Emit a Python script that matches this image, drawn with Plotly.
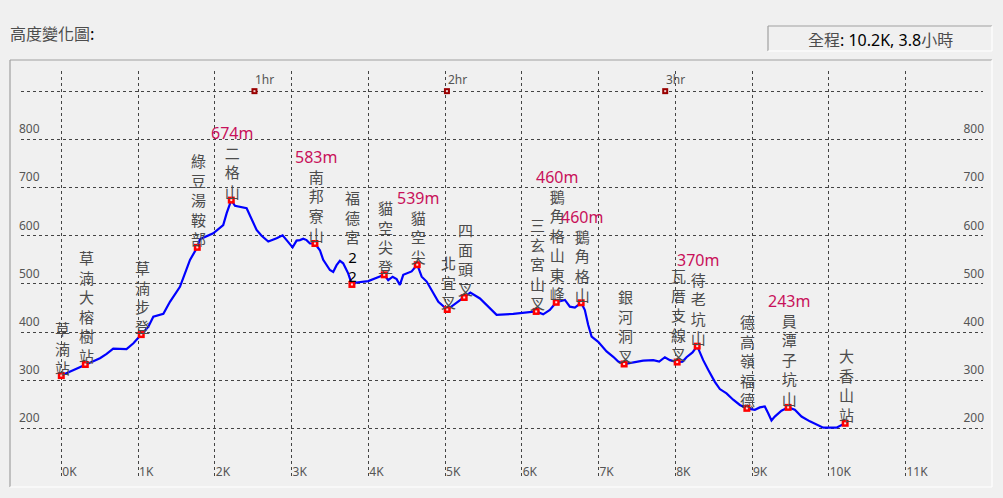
import plotly.graph_objects as go

# elevation profile: distance (km) / elevation (m)
profile_km = [0.00, 0.313, 0.504, 0.591, 0.677, 0.85, 0.94, 1.042, 1.133, 1.199,
              1.33, 1.416, 1.546, 1.677, 1.772, 1.807, 1.98, 2.11, 2.155, 2.215,
              2.263, 2.415, 2.48, 2.545, 2.61, 2.697, 2.806, 2.884, 2.936, 3.014,
              3.066, 3.11, 3.153, 3.196, 3.24, 3.305, 3.37, 3.413, 3.5, 3.543,
              3.587, 3.63, 3.673, 3.738, 3.787, 3.848, 4.0, 4.109, 4.208, 4.26,
              4.317, 4.369, 4.412, 4.456, 4.521, 4.565, 4.638, 4.696, 4.761, 4.848,
              4.913, 5.029, 5.25, 5.33, 5.455, 5.542, 5.672, 5.889, 6.063, 6.188,
              6.279, 6.366, 6.449, 6.562, 6.627, 6.692, 6.774, 6.822, 6.866, 6.91,
              6.996, 7.105, 7.192, 7.257, 7.334, 7.452, 7.582, 7.713, 7.791, 7.865,
              7.93, 8.025, 8.095, 8.147, 8.225, 8.286, 8.364, 8.429, 8.516, 8.581,
              8.668, 8.755, 8.842, 8.933, 9.037, 9.102, 9.167, 9.211, 9.254, 9.297,
              9.384, 9.471, 9.558, 9.645, 9.754, 9.928, 10.1, 10.214]
profile_elev = [310, 333, 346, 355, 366, 365, 377, 395, 411, 432,
                438, 463, 494, 550, 576, 593, 605, 622, 647, 674,
                662, 657, 633, 612, 600, 588, 595, 601, 591, 576,
                590, 591, 594, 591, 584, 584, 570, 550, 529, 525,
                539, 548, 543, 522, 499, 503, 506, 512, 519, 508,
                515, 510, 498, 519, 523, 526, 540, 515, 505, 481,
                463, 447, 472, 482, 470, 456, 436, 438, 440, 443,
                437, 446, 462, 467, 453, 451, 461, 446, 415, 391,
                380, 360, 349, 339, 334, 337, 341, 342, 339, 348,
                342, 338, 339, 348, 358, 371, 342, 322, 297, 282,
                273, 260, 249, 242, 239, 244, 246, 232, 217, 225,
                237, 244, 239, 225, 215, 202, 202, 211]

# waypoints
wp_names = ["草湳站", "草湳大榕樹站", "草湳步登", "綠豆湯鞍部", "二格山", "南邦寮山",
            "福德宮22", "貓空尖登", "貓空尖", "北宜叉", "四面頭叉", "三玄宮山叉",
            "鵝角格山東峰", "鵝角格山", "銀河洞叉", "瓦厝支線叉", "待老坑山",
            "德高嶺福德", "員潭子坑山", "大香山站"]
wp_km = [0.00, 0.313, 1.042, 1.772, 2.215, 3.305, 3.787, 4.208, 4.638, 5.029,
         5.25, 6.188, 6.449, 6.774, 7.334, 8.025, 8.286, 8.933, 9.471, 10.214]
wp_elev = [310, 333, 395, 576, 674, 584, 499, 519, 540, 447,
           472, 443, 462, 461, 334, 338, 371, 242, 244, 211]
wp_peak = [None, None, None, None, "674m", "583m", None, None, "539m", None,
           None, None, "460m", "460m", None, None, "370m", None, "243m", None]

hour_labels = ["1hr", "2hr", "3hr"]
hour_km = [2.517, 5.025, 7.869]
hour_elev = [900, 900, 900]

x_ticks = list(range(0, 13))
x_ticktext = [f"{k}K" for k in range(0, 12)] + [""]
y_ticks = list(range(100, 1000, 100))
y_ticktext = [""] + [str(v) for v in range(200, 900, 100)] + [""]

W, H = 1003, 498
L, R, T, B = 21, 983, 71, 477
CJK = "Noto Sans CJK TC"
LABEL_GREY = "#4c4c4c"
PEAK_RED = "#c8105a"


def px_x(p):
    return (p - L) / (R - L)


def px_y(p):
    return (B - p) / (B - T)


def vertical_text(name, peak):
    parts = []
    if peak:
        parts.append(f"<span style='color:{PEAK_RED};font-family:Noto Sans;font-size:16px'>{peak}</span>")
    for ch in name:
        if ch.isdigit():
            parts.append(f"<span style='color:#000000;font-family:Noto Sans'>{ch}</span>")
        else:
            parts.append(ch)
    return "<br>".join(parts)


fig = go.Figure()
fig.add_trace(go.Scatter(x=profile_km, y=profile_elev, mode="lines",
                         line=dict(color="#0000ff", width=2.2), hoverinfo="skip"))
fig.add_trace(go.Scatter(x=wp_km, y=wp_elev, mode="markers",
                         marker=dict(symbol="square", size=7, color="#ff0000"),
                         hoverinfo="skip"))
fig.add_trace(go.Scatter(x=wp_km, y=wp_elev, mode="markers",
                         marker=dict(symbol="square", size=2, color="#ffe0e0"),
                         hoverinfo="skip"))
fig.add_trace(go.Scatter(x=hour_km, y=hour_elev, mode="markers",
                         marker=dict(symbol="square", size=6, color="#990000"),
                         hoverinfo="skip"))
fig.add_trace(go.Scatter(x=hour_km, y=hour_elev, mode="markers",
                         marker=dict(symbol="square", size=2, color="#f0d0d0"),
                         hoverinfo="skip"))
fig.add_trace(go.Scatter(x=[0], y=[500], yaxis="y2", mode="markers",
                         marker=dict(opacity=0), hoverinfo="skip"))

annotations = []
for name, k, e, peak in zip(wp_names, wp_km, wp_elev, wp_peak):
    annotations.append(dict(x=k, y=e, xref="x", yref="y", text=vertical_text(name, peak),
                            showarrow=False, xanchor="center", yanchor="bottom",
                            xshift=1, yshift=-4, align="center",
                            font=dict(family=CJK, size=15, color=LABEL_GREY)))
for lab, k, e in zip(hour_labels, hour_km, hour_elev):
    annotations.append(dict(x=k, y=e, xref="x", yref="y", text=lab, showarrow=False,
                            xanchor="left", yanchor="middle", xshift=-1, yshift=12,
                            font=dict(family="Noto Sans", size=12, color="#555555")))
annotations.append(dict(x=px_x(8), y=px_y(33), xref="paper", yref="paper",
                        text="高度變化圖<span style='color:#000000'>:</span>",
                        showarrow=False, xanchor="left", yanchor="middle",
                        font=dict(family=CJK, size=16, color=LABEL_GREY)))
annotations.append(dict(x=px_x(880), y=px_y(38.5), xref="paper", yref="paper",
                        text="全程<span style='color:#000000;font-family:Noto Sans'>: 10.2K, 3.8</span>小時",
                        showarrow=False, xanchor="center", yanchor="middle",
                        font=dict(family=CJK, size=16, color=LABEL_GREY)))

grey_edge = dict(color="#a0a0a0", width=1.2)
white_edge = dict(color="#ffffff", width=1.2)
shapes = [
    # chart frame
    dict(type="line", xref="paper", yref="paper", x0=px_x(10), x1=px_x(992), y0=px_y(60), y1=px_y(60), line=grey_edge),
    dict(type="line", xref="paper", yref="paper", x0=px_x(10), x1=px_x(10), y0=px_y(60), y1=px_y(487), line=grey_edge),
    dict(type="line", xref="paper", yref="paper", x0=px_x(10), x1=px_x(992), y0=px_y(487), y1=px_y(487), line=white_edge),
    dict(type="line", xref="paper", yref="paper", x0=px_x(992), x1=px_x(992), y0=px_y(60), y1=px_y(487), line=white_edge),
    # summary box
    dict(type="line", xref="paper", yref="paper", x0=px_x(768), x1=px_x(992), y0=px_y(26), y1=px_y(26), line=grey_edge),
    dict(type="line", xref="paper", yref="paper", x0=px_x(768), x1=px_x(768), y0=px_y(26), y1=px_y(51), line=grey_edge),
    dict(type="line", xref="paper", yref="paper", x0=px_x(768), x1=px_x(992), y0=px_y(51), y1=px_y(51), line=white_edge),
    dict(type="line", xref="paper", yref="paper", x0=px_x(992), x1=px_x(992), y0=px_y(26), y1=px_y(51), line=white_edge),
]

grid = dict(showgrid=True, gridcolor="#444444", gridwidth=1, griddash="3px,3px",
            zeroline=False, showline=False, ticks="")
fig.update_layout(
    width=W, height=H,
    margin=dict(l=L, r=W - R, t=T, b=H - B, autoexpand=False),
    paper_bgcolor="#f0f0f0", plot_bgcolor="#f0f0f0",
    showlegend=False,
    font=dict(family="Noto Sans", size=12, color="#555555"),
    xaxis=dict(range=[-0.525, 12.01], tickvals=x_ticks, ticktext=x_ticktext,
               ticklabelposition="inside right", ticklabelstandoff=-7, ticklabelshift=1,
               tickfont=dict(size=12, color="#555555"), fixedrange=True, **grid),
    yaxis=dict(range=[99.6, 941.8], tickvals=y_ticks, ticktext=y_ticktext,
               ticklabelposition="inside top", ticklabelstandoff=-5, ticklabelshift=-2,
               tickfont=dict(size=12, color="#555555"), fixedrange=True, **grid),
    yaxis2=dict(range=[99.6, 941.8], overlaying="y", side="right", tickvals=y_ticks,
                ticktext=y_ticktext, ticklabelposition="inside top", ticklabelstandoff=-4,
                ticklabelshift=-2,
                tickfont=dict(size=12, color="#555555"), showgrid=False,
                zeroline=False, showline=False, ticks="", fixedrange=True),
    annotations=annotations,
    shapes=shapes,
)

fig.write_html("out.html", config={"displayModeBar": False},
               post_script="document.body.style.margin='0';document.body.style.background='#f0f0f0';")
